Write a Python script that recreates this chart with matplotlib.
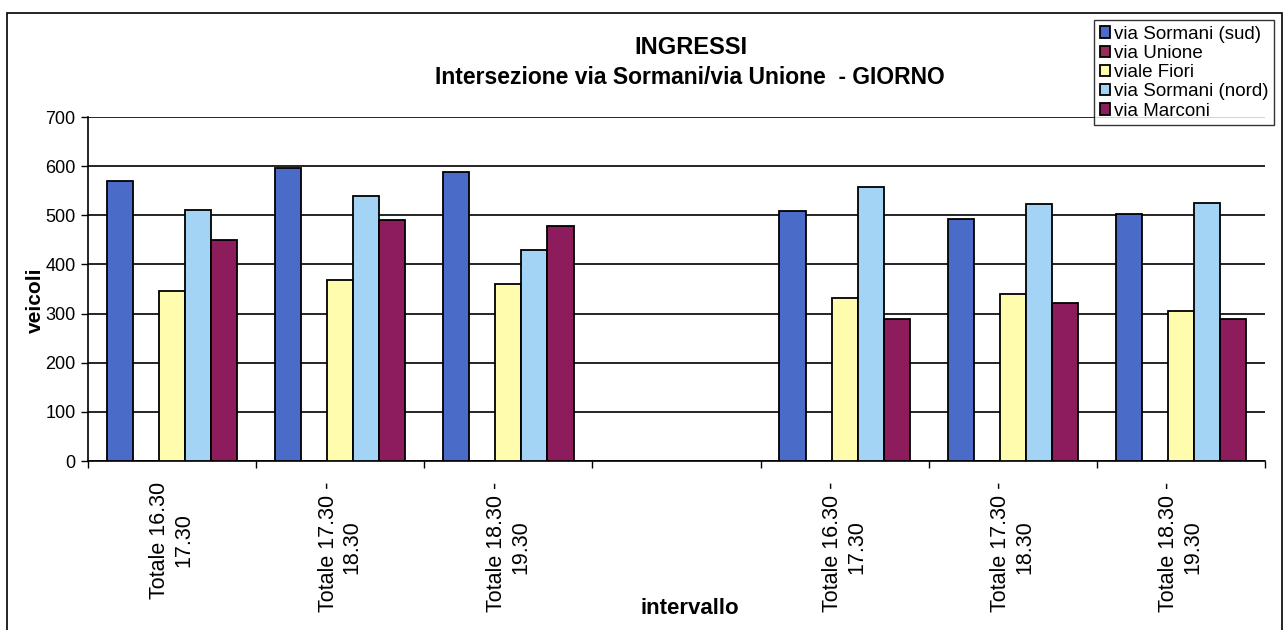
import numpy as np
import matplotlib
matplotlib.use("Agg")
import matplotlib.pyplot as plt
from matplotlib.patches import Rectangle

plt.rcParams['font.family'] = ['Liberation Sans', 'DejaVu Sans']

# data
labels = ["Totale 16.30\n17.30", "Totale 17.30 -\n18.30", "Totale 18.30 -\n19.30", "",
          "Totale 16.30 -\n17.30", "Totale 17.30 -\n18.30", "Totale 18.30 -\n19.30"]
sormani_sud = [570, 597, 588, np.nan, 508, 493, 502]
unione = [0, 0, 0, np.nan, 0, 0, 0]
fiori = [345, 368, 360, np.nan, 332, 340, 306]
sormani_nord = [511, 540, 430, np.nan, 558, 522, 524]
marconi = [450, 491, 478, np.nan, 289, 322, 288]

series = [("via Sormani (sud)", sormani_sud, "#4a6bc8"),
          ("via Unione", unione, "#9a2a5a"),
          ("viale Fiori", fiori, "#fffcae"),
          ("via Sormani (nord)", sormani_nord, "#a3d3f5"),
          ("via Marconi", marconi, "#8c1c5c")]

fig = plt.figure(figsize=(12.88, 6.3), dpi=100)
ax = fig.add_axes([88/1288, 1 - 461/630, (1265 - 88)/1288, (461 - 117)/630])

x = np.arange(len(labels))
w = 0.155
start = (1 - 5*w) / 2
for j, (name, vals, col) in enumerate(series):
    ax.bar(x + start + j*w, vals, width=w, align='edge', color=col,
           edgecolor='black', linewidth=1.3, label=name, zorder=3)

ax.set_xlim(0, len(labels))
ax.set_ylim(0, 700)
ax.set_yticks(range(0, 701, 100))
ax.tick_params(axis='y', labelsize=13, length=5, width=1, direction='out', pad=4)
ax.yaxis.grid(True, color='black', linewidth=1.2, zorder=0)
ax.set_axisbelow(True)

ax.set_xticks(np.arange(len(labels) + 1))
ax.set_xticklabels([])
ax.tick_params(axis='x', which='major', length=5, width=1, direction='out')
ax.set_xticks(x + 0.5, minor=True)
ax.set_xticklabels(labels, minor=True, rotation=90, fontsize=15.5,
                   ha='center', va='top', multialignment='center')
ax.tick_params(axis='x', which='minor', length=0, pad=15)

for s in ['top', 'right']:
    ax.spines[s].set_visible(False)
for s in ['left', 'bottom']:
    ax.spines[s].set_linewidth(1.2)

fig.text(691/1288, 1 - 48/630, "INGRESSI", fontsize=17, fontweight='bold',
         ha='center', va='center')
fig.text(690/1288, 1 - 77/630, "Intersezione via Sormani/via Unione  - GIORNO",
         fontsize=16.5, fontweight='bold', ha='center', va='center')
fig.text(35/1288, 1 - 300/630, "veicoli", fontsize=15, fontweight='bold',
         rotation=90, ha='center', va='center')
fig.text(690/1288, 1 - 608/630, "intervallo", fontsize=16, fontweight='bold',
         ha='center', va='center')

leg = fig.legend(loc='upper right', bbox_to_anchor=(1274/1288, 1 - 20/630),
                 fontsize=13.5, frameon=True, fancybox=False, borderaxespad=0,
                 handlelength=0.55, handleheight=0.55, handletextpad=0.2,
                 borderpad=0.3, labelspacing=0.12)
leg.get_frame().set_edgecolor('black')
leg.get_frame().set_linewidth(1)

fig.patches.append(Rectangle((7/1288, -0.02), (1282 - 7)/1288, 1 - 13/630 + 0.02,
                             transform=fig.transFigure, fill=False,
                             edgecolor='black', linewidth=1.2))

fig.savefig("out.png", dpi=100)
